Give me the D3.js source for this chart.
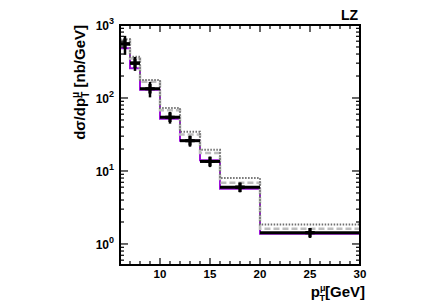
<!DOCTYPE html>
<html>
<head>
<meta charset="utf-8">
<script src="https://cdn.jsdelivr.net/npm/d3@7"></script>
<style>
  body { margin: 0; background: #fff; }
  text { font-family: "Liberation Sans", Arial, sans-serif; }
</style>
</head>
<body>
<div id="chart"></div>
<script>
var svgWidth = 436;
var svgHeight = 305;

var margin = { top: 25, right: 76, bottom: 40, left: 120 };
var width = svgWidth - margin.left - margin.right;
var height = svgHeight - margin.top - margin.bottom;

// bin edges in pT (GeV)
var binEdges = [6, 7, 8, 10, 12, 14, 16, 20, 30];
// measured points and their errors
var dataVals = [550, 300, 134, 54.5, 26, 13.5, 6.0, 1.43];
var dataErrs = [160, 65, 32, 10, 4.5, 2.2, 0.9, 0.22];
// predictions
var purpleVals = [480, 255, 130, 52, 26, 14, 5.7, 1.38];
var dashedVals = [620, 348, 167, 68, 31.6, 17.6, 6.9, 1.62];
var dottedVals = [640, 368, 177, 73, 34.6, 19.5, 8.0, 1.85];

var xTicks = [10, 15, 20, 25, 30];
var yTicks = [1, 10, 100, 1000];
var yTickExp = ["0", "1", "2", "3"];

var svg = d3.select("#chart")
    .append("svg")
    .attr("width", svgWidth)
    .attr("height", svgHeight);

var chartGroup = svg.append("g")
    .attr("transform", `translate(${margin.left}, ${margin.top})`);

var x = d3.scaleLinear().domain([6, 30]).range([0, width]);
var y = d3.scaleLog().domain([0.515, 1000]).range([height, 0]);

// histogram step path
function stepLine(vals) {
    var pts = [];
    vals.forEach(function (v, i) {
        pts.push([x(binEdges[i]), y(v)]);
        pts.push([x(binEdges[i + 1]), y(v)]);
    });
    return d3.line()(pts);
}

chartGroup.append("path")
    .attr("d", stepLine(purpleVals))
    .attr("fill", "none")
    .attr("stroke", "#9b10d8")
    .attr("stroke-width", 2);

chartGroup.append("path")
    .attr("d", stepLine(dashedVals))
    .attr("fill", "none")
    .attr("stroke", "#bdbdbd")
    .attr("stroke-width", 2.5)
    .attr("stroke-dasharray", "6,3");

chartGroup.append("path")
    .attr("d", stepLine(dottedVals))
    .attr("fill", "none")
    .attr("stroke", "#707070")
    .attr("stroke-width", 2)
    .attr("stroke-dasharray", "1.5,1.5");

// data points
var pts = chartGroup.append("g");
dataVals.forEach(function (v, i) {
    var x0 = x(binEdges[i]), x1 = x(binEdges[i + 1]);
    var xc = (x0 + x1) / 2;
    pts.append("line")
        .attr("x1", x0).attr("x2", x1)
        .attr("y1", y(v)).attr("y2", y(v))
        .attr("stroke", "#000").attr("stroke-width", 3);
    pts.append("line")
        .attr("x1", xc).attr("x2", xc)
        .attr("y1", y(v + dataErrs[i])).attr("y2", y(v - dataErrs[i]))
        .attr("stroke", "#000").attr("stroke-width", 2.5);
    pts.append("path")
        .attr("d", d3.symbol().type(d3.symbolCross).size(50)())
        .attr("transform", `translate(${xc}, ${y(v)})`)
        .attr("fill", "#000");
});

// frame
chartGroup.append("rect")
    .attr("width", width).attr("height", height)
    .attr("fill", "none").attr("stroke", "#000").attr("stroke-width", 2);

// x ticks (bottom and top, inside)
var xMinor = d3.range(7, 30, 1);
var xAxisG = chartGroup.append("g");
xMinor.forEach(function (t) {
    var major = xTicks.indexOf(t) >= 0;
    var len = major ? 7 : 4;
    xAxisG.append("line").attr("x1", x(t)).attr("x2", x(t))
        .attr("y1", height).attr("y2", height - len)
        .attr("stroke", "#000").attr("stroke-width", 1.2);
    xAxisG.append("line").attr("x1", x(t)).attr("x2", x(t))
        .attr("y1", 0).attr("y2", len)
        .attr("stroke", "#000").attr("stroke-width", 1.2);
});
xTicks.forEach(function (t) {
    xAxisG.append("text")
        .attr("x", x(t)).attr("y", height + 13)
        .attr("text-anchor", "middle")
        .attr("font-size", 11.5)
        .attr("font-weight", "bold")
        .text(t);
});

// y ticks (left and right, inside)
var yAxisG = chartGroup.append("g");
var yMinor = [];
[0.1, 1, 10, 100].forEach(function (d) {
    for (var k = 1; k < 10; k++) {
        var v = d * k;
        if (v >= 0.515 && v <= 1000) yMinor.push(v);
    }
});
yMinor.push(1000);
yMinor.forEach(function (t) {
    var major = yTicks.indexOf(t) >= 0;
    var len = major ? 8 : 4;
    yAxisG.append("line").attr("x1", 0).attr("x2", len)
        .attr("y1", y(t)).attr("y2", y(t))
        .attr("stroke", "#000").attr("stroke-width", 1.2);
    yAxisG.append("line").attr("x1", width).attr("x2", width - len)
        .attr("y1", y(t)).attr("y2", y(t))
        .attr("stroke", "#000").attr("stroke-width", 1.2);
});
yTicks.forEach(function (t, i) {
    var lab = yAxisG.append("text")
        .attr("x", -6).attr("y", y(t) + 5)
        .attr("text-anchor", "end")
        .attr("font-size", 12)
        .attr("font-weight", "bold");
    lab.append("tspan").text("10");
    lab.append("tspan").attr("dy", -6).attr("font-size", 9).text(yTickExp[i]);
});

// x title
var xTitle = svg.append("text")
    .attr("x", 365).attr("y", 297)
    .attr("text-anchor", "end")
    .attr("font-size", 15)
    .attr("font-weight", "bold");
xTitle.append("tspan").text("p");
xTitle.append("tspan").attr("font-size", 9).attr("dy", -6).text("\u03bc");
xTitle.append("tspan").attr("font-size", 9).attr("dx", -6).attr("dy", 10).text("T");
xTitle.append("tspan").attr("dy", -4).text("[GeV]");

// y title
var yTitle = svg.append("text")
    .attr("transform", `translate(85, ${margin.top}) rotate(-90)`)
    .attr("text-anchor", "end")
    .attr("font-size", 15)
    .attr("font-weight", "bold");
yTitle.append("tspan").text("d\u03c3/dp");
yTitle.append("tspan").attr("font-size", 10).attr("dy", -6).text("\u03bc");
yTitle.append("tspan").attr("font-size", 10).attr("dx", -6).attr("dy", 10).text("T");
yTitle.append("tspan").attr("dy", -4).text(" [nb/GeV]");

// label
svg.append("text")
    .attr("x", margin.left + width - 2).attr("y", 20)
    .attr("text-anchor", "end")
    .attr("font-size", 14)
    .attr("font-weight", "bold")
    .text("LZ");
</script>
</body>
</html>
